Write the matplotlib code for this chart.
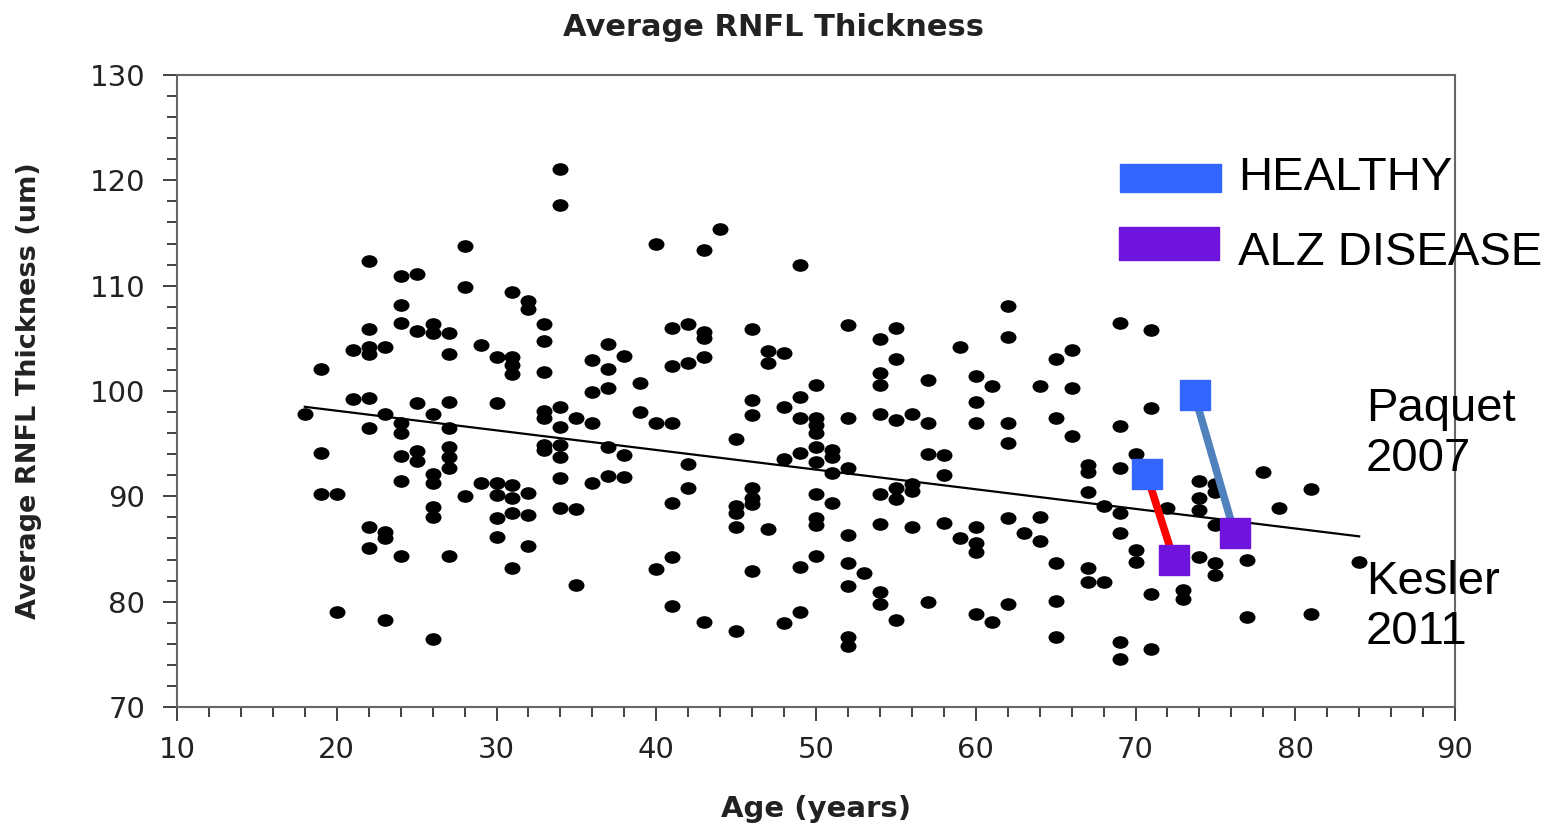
import numpy as np
import matplotlib
matplotlib.use('Agg')
import matplotlib.pyplot as plt
from matplotlib.patches import Rectangle
from matplotlib.path import Path
from matplotlib.transforms import Affine2D

# scatter data (age in years, RNFL thickness in um)
age = (
    [18] + [19] * 3 + [20] * 2 + [21] * 2 + [22] * 8 + [23] * 5 + [24] * 8 + [25] * 5 +
    [26] * 8 + [27] * 8 + [28] * 3 + [29] * 2 + [30] * 6 + [31] * 8 + [32] * 5 + [33] * 7 +
    [34] * 8 + [35] * 3 + [36] * 4 + [37] * 5 + [38] * 3 + [39] * 2 + [40] * 3 + [41] * 6 +
    [42] * 4 + [43] * 5 + [44] + [45] * 5 + [46] * 7 + [47] * 3 + [48] * 4 + [49] * 6 +
    [50] * 10 + [51] * 4 + [52] * 8 + [53] + [54] * 8 + [55] * 6 + [56] * 4 + [57] * 4 +
    [58] * 3 + [59] * 2 + [60] * 7 + [61] * 2 + [62] * 6 + [63] + [64] * 3 + [65] * 5 +
    [66] * 3 + [67] * 5 + [68] * 2 + [69] * 7 + [70] * 3 + [71] * 4 + [72] + [73] * 2 +
    [74] * 4 + [75] * 5 + [77] * 2 + [78] + [79] + [81] * 2 + [84]
)
rnfl = [
    97.8,
    102.1, 94.1, 90.2,
    90.2, 79.0,
    103.9, 99.2,
    112.3, 105.9, 104.2, 103.5, 99.3, 96.5, 87.1, 85.1,
    104.2, 97.8, 86.6, 86.0, 78.3,
    110.9, 108.2, 106.5, 97.0, 96.0, 93.8, 91.5, 84.3,
    111.1, 105.7, 98.9, 94.3, 93.4,
    106.4, 105.5, 97.8, 92.1, 91.3, 89.0, 88.0, 76.5,
    105.5, 103.5, 99.0, 96.5, 94.7, 93.7, 92.7, 84.3,
    113.8, 109.9, 90.0,
    104.4, 91.3,
    103.2, 98.9, 91.3, 90.1, 87.9, 86.1,
    109.4, 103.2, 102.5, 101.6, 91.1, 89.8, 88.4, 83.2,
    108.5, 107.8, 90.3, 88.2, 85.3,
    106.4, 104.7, 101.8, 98.1, 97.4, 94.9, 94.4,
    121.1, 117.7, 98.5, 96.6, 94.9, 93.7, 91.7, 88.9,
    97.4, 88.8, 81.6,
    102.9, 99.9, 97.0, 91.3,
    104.5, 102.1, 100.3, 94.7, 91.9,
    103.3, 93.9, 91.8,
    100.8, 98.0,
    114.0, 97.0, 83.1,
    106.0, 102.4, 97.0, 89.4, 84.2, 79.6,
    106.4, 102.7, 93.1, 90.8,
    113.4, 105.6, 105.0, 103.2, 78.1,
    115.4,
    95.4, 89.1, 88.4, 87.1, 77.2,
    105.9, 99.1, 97.7, 90.8, 89.8, 89.3, 82.9,
    103.8, 102.7, 86.9,
    103.6, 98.5, 93.5, 78.0,
    112.0, 99.4, 97.4, 94.1, 83.3, 79.0,
    100.6, 97.4, 96.8, 96.0, 94.7, 93.3, 90.2, 87.9, 87.3, 84.3,
    94.4, 93.7, 92.2, 89.4,
    106.3, 97.4, 92.7, 86.3, 83.7, 81.5, 76.6, 75.8,
    82.7,
    104.9, 101.7, 100.6, 97.8, 90.2, 87.4, 80.9, 79.8,
    106.0, 103.0, 97.2, 90.8, 89.7, 78.3,
    97.8, 91.2, 90.5, 87.1,
    101.0, 97.0, 94.0, 80.0,
    93.9, 92.0, 87.5,
    104.2, 86.0,
    101.4, 99.0, 97.0, 87.1, 85.6, 84.7, 78.8,
    100.5, 78.1,
    108.1, 105.1, 97.0, 95.1, 87.9, 79.8,
    86.5,
    100.5, 88.0, 85.8,
    103.0, 97.4, 83.7, 80.1, 76.6,
    103.9, 100.3, 95.7,
    93.0, 92.3, 90.4, 83.2, 81.9,
    89.1, 81.9,
    106.5, 96.7, 92.7, 88.4, 86.5, 76.2, 74.6,
    94.0, 84.9, 83.8,
    105.8, 98.4, 80.7, 75.5,
    88.9,
    81.1, 80.3,
    91.5, 89.8, 88.7, 84.2,
    91.2, 90.4, 87.3, 83.7, 82.5,
    84.0, 78.5,
    92.3,
    88.9,
    90.7, 78.8,
    83.8,
]

# regression line end points
fit_age = [18, 84]
fit_rnfl = [98.5, 86.2]

# study overlays: healthy -> alzheimer's
kesler_age = [70.7, 72.4]
kesler_rnfl = [92.1, 84.0]
paquet_age = [73.7, 76.2]
paquet_rnfl = [99.6, 86.5]

blue = '#3366FF'
purple = '#6E14DC'

fig = plt.figure(figsize=(15.51, 8.27), dpi=100)
ax = fig.add_axes([177 / 1551, 1 - 707 / 827, (1455 - 177) / 1551, (707 - 75) / 827])

# dots in the reference are slightly wider than tall
dot = Path.unit_circle().transformed(Affine2D().scale(1.3, 1.0))
ax.plot(age, rnfl, linestyle='none', marker=dot, markersize=10.5, color='black')
ax.plot(fit_age, fit_rnfl, color='black', lw=1.6)

ax.plot(kesler_age, kesler_rnfl, color='red', lw=5.5, solid_capstyle='butt', zorder=4)
ax.plot(paquet_age, paquet_rnfl, color='#4F81BD', lw=5.5, solid_capstyle='butt', zorder=4)
for xs, ys in [(kesler_age, kesler_rnfl), (paquet_age, paquet_rnfl)]:
    ax.plot(xs[0], ys[0], marker='s', markersize=21, color=blue, zorder=5)
    ax.plot(xs[1], ys[1], marker='s', markersize=21, color=purple, zorder=5)

ax.set_xlim(10, 90)
ax.set_ylim(70, 130)
ax.set_xticks(np.arange(10, 91, 10))
ax.set_xticks(np.arange(10, 91, 2), minor=True)
ax.set_yticks(np.arange(70, 131, 10))
ax.set_yticks(np.arange(70, 131, 2), minor=True)
ax.tick_params(which='major', length=10, width=1.3, color='#333333', labelsize=21,
               labelcolor='#222222', pad=11)
ax.tick_params(which='minor', length=7, width=1.3, color='#333333')
ax.tick_params(axis='y', pad=13)
for s in ax.spines.values():
    s.set_color('#666666')
    s.set_linewidth(1.5)

ax.set_xlabel('Age (years)', fontsize=21, fontweight='bold', labelpad=22, color='#222222')
ax.set_ylabel('Average RNFL Thickness (um)', fontsize=19.5, fontweight='bold', labelpad=34,
              color='#222222')
fig.text(0.499, 0.967, 'Average RNFL Thickness', fontsize=22, fontweight='bold',
         ha='center', va='center', color='#222222')

# legend drawn by hand, outside the axes like the reference
fig.patches.append(Rectangle((1120 / 1551, 1 - 192 / 827), 101 / 1551, 28 / 827,
                             transform=fig.transFigure, color=blue))
fig.patches.append(Rectangle((1119 / 1551, 1 - 260 / 827), 100 / 1551, 33 / 827,
                             transform=fig.transFigure, color=purple))
big = dict(family='Liberation Sans', fontsize=34, va='center', ha='left')
fig.text(1238 / 1551, 1 - 178 / 827, 'HEALTHY', **big)
fig.text(1238 / 1551, 1 - 253 / 827, 'ALZ DISEASE', **big)
fig.text(1366 / 1551, 1 - 434 / 827, 'Paquet\n2007', linespacing=1.2, **big)
fig.text(1366 / 1551, 1 - 607 / 827, 'Kesler\n2011', linespacing=1.2, **big)

fig.savefig('out.png', dpi=100)
